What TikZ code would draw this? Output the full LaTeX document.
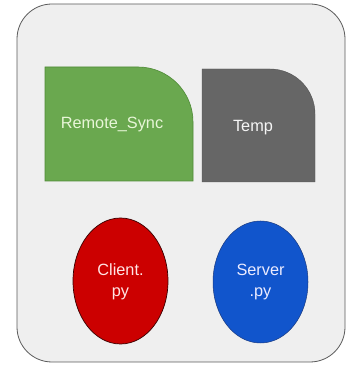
\documentclass[tikz,border=0pt]{standalone}
\usepackage{fontspec}
\setmainfont{Liberation Sans}
\definecolor{panelfill}{HTML}{EFEFEF}
\definecolor{panelline}{HTML}{5A5A5A}
\definecolor{syncgreen}{HTML}{6AA84F}
\definecolor{syncline}{HTML}{4E8A36}
\definecolor{synctext}{HTML}{E8F6D8}
\definecolor{tempgray}{HTML}{666666}
\definecolor{clientred}{HTML}{CC0000}
\definecolor{clientline}{HTML}{3A0000}
\definecolor{serverblue}{HTML}{1155CC}
\definecolor{serverline}{HTML}{1A3A80}
\tikzset{
  label text/.style={font=\fontsize{16.3}{21.5}\selectfont, align=center, inner sep=0pt},
}
\begin{document}
\begin{tikzpicture}[x=1pt,y=1pt]
  \useasboundingbox (0,0) rectangle (347,366);
  % outer panel
  \draw[panelline, fill=panelfill, line width=0.8pt, rounded corners=35pt] (17,4) rectangle (345,362);
  % folder boxes with one rounded corner
  \draw[syncline, fill=syncgreen, line width=0.6pt]
    (45,185) -- (45,299) -- (138,299) arc[start angle=90, end angle=0, radius=55] -- (193,185) -- cycle;
  \draw[tempgray!80!black, fill=tempgray, line width=0.4pt]
    (202,184) -- (202,297) -- (270,297) arc[start angle=90, end angle=0, radius=45] -- (315,184) -- cycle;
  \node[label text, text=synctext] (sync) at (112,241) {Remote\_Sync};
  \node[label text, text=white!92!gray] (temp) at (253,238) {Temp};
  % script files
  \draw[clientline, fill=clientred, line width=0.7pt] (120.5,85) ellipse[x radius=47.5, y radius=63];
  \draw[serverline, fill=serverblue, line width=0.5pt] (260.5,84) ellipse[x radius=47.5, y radius=61];
  \node[label text, text=white!90!red] (client) at (120.5,84) {Client.\\py};
  \node[label text, text=white!92!blue] (server) at (260.5,84) {Server\\.py};
\end{tikzpicture}
\end{document}
